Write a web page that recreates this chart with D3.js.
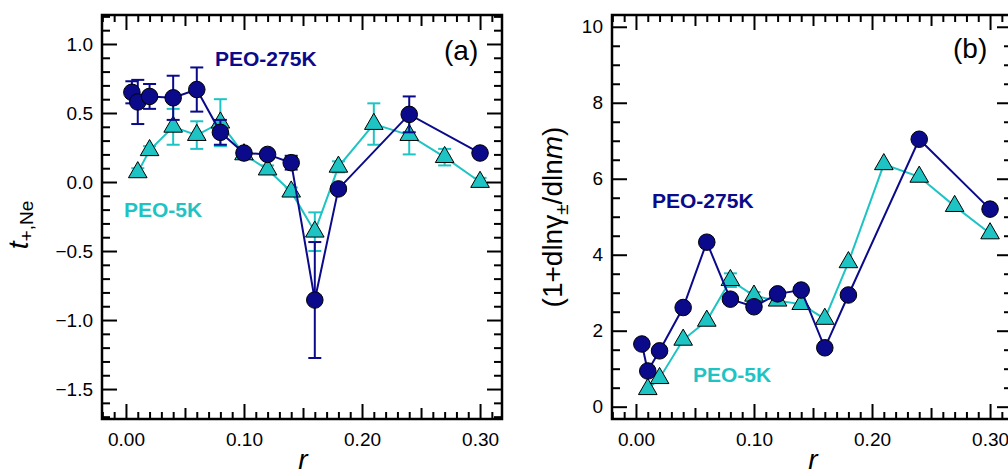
<!DOCTYPE html>
<html>
<head>
<meta charset="utf-8">
<script src="https://cdn.jsdelivr.net/npm/d3@7"></script>
<style>
  body { margin: 0; background: #fff; }
  svg { display: block; }
  text { font-family: Arial, "Liberation Sans", sans-serif; }
</style>
</head>
<body>
<div id="chart"></div>
<script>
// panel (a): t+,Ne vs r
var rA275 = [0.005, 0.01, 0.02, 0.04, 0.06, 0.08, 0.10, 0.12, 0.14, 0.16, 0.18, 0.24, 0.30];
var tA275 = [0.65, 0.58, 0.62, 0.61, 0.67, 0.36, 0.21, 0.20, 0.14, -0.855, -0.05, 0.49, 0.21];
var eA275 = [0.08, 0.16, 0.09, 0.16, 0.16, 0.09, 0.03, 0.03, 0.05, 0.42, 0.03, 0.13, 0.03];
var rA5 = [0.01, 0.02, 0.04, 0.06, 0.08, 0.10, 0.12, 0.14, 0.16, 0.18, 0.21, 0.24, 0.27, 0.30];
var tA5 = [0.07, 0.23, 0.40, 0.34, 0.43, 0.20, 0.09, -0.07, -0.36, 0.11, 0.42, 0.34, 0.18, 0.00];
var eA5 = [0.03, 0.03, 0.13, 0.10, 0.17, 0.03, 0.03, 0.03, 0.14, 0.04, 0.15, 0.14, 0.06, 0.03];

// panel (b): thermodynamic factor vs r
var rB275 = [0.005, 0.01, 0.02, 0.04, 0.06, 0.08, 0.10, 0.12, 0.14, 0.16, 0.18, 0.24, 0.30];
var gB275 = [1.65, 0.94, 1.47, 2.61, 4.33, 2.83, 2.63, 2.97, 3.07, 1.55, 2.94, 7.04, 5.20];
var eB275 = [0, 0, 0, 0, 0, 0, 0, 0, 0, 0, 0, 0, 0];
var rB5 = [0.01, 0.02, 0.04, 0.06, 0.08, 0.10, 0.12, 0.14, 0.16, 0.18, 0.21, 0.24, 0.27, 0.30];
var gB5 = [0.46, 0.75, 1.76, 2.26, 3.33, 2.92, 2.79, 2.70, 2.31, 3.80, 6.38, 6.05, 5.28, 4.56];
var eB5 = [0, 0, 0, 0, 0.18, 0.10, 0, 0, 0, 0, 0, 0, 0, 0];

var xTicks = [0, 0.1, 0.2, 0.3];
var yTicksA = [-1.5, -1.0, -0.5, 0, 0.5, 1.0];
var yTicksB = [0, 2, 4, 6, 8, 10];

var navy = "#0a0a8a", cyan = "#1ec4c4";
var W = 1008, H = 475, top_ = 15, bottom = 419, pw = 400;

var svg = d3.select("#chart").append("svg")
    .attr("width", W)
    .attr("height", H);

function rnd(v) { return Math.round(v * 1000) / 1000; }

function panel(cfg) {
    var g = svg.append("g");
    var x = d3.scaleLinear().domain([-0.0203, 0.3186]).range([cfg.left, cfg.left + pw]);
    var y = d3.scaleLinear().domain(cfg.yDom).range([bottom, top_]);

    var xMed = [0.05, 0.15, 0.25];
    var xMinor = d3.range(-2, 32).map(function (i) { return rnd(i / 100); })
        .filter(function (v) { return v * 100 % 5 !== 0; });
    var yMinor = cfg.yMinor;

    // ticks on all four sides, pointing in
    function ticks(axisFn, scale, vals, len, fmt, tr, pad) {
        var a = axisFn(scale).tickValues(vals).tickSize(-len).tickPadding(pad || 0)
            .tickFormat(fmt || "");
        var sel = g.append("g").attr("transform", tr).call(a);
        sel.select(".domain").remove();
        sel.selectAll("line").attr("stroke", "#000").attr("stroke-width", 2);
        sel.selectAll("text").attr("font-size", 19).attr("fill", "#000");
        return sel;
    }
    var bt = "translate(0," + bottom + ")", tt = "translate(0," + top_ + ")";
    var lt = "translate(" + cfg.left + ",0)", rt = "translate(" + (cfg.left + pw) + ",0)";

    ticks(d3.axisBottom, x, xTicks, 15, d3.format(".2f"), bt, 14);
    ticks(d3.axisBottom, x, xMed, 11, null, bt);
    ticks(d3.axisBottom, x, xMinor, 7, null, bt);
    ticks(d3.axisTop, x, xTicks, 15, null, tt);
    ticks(d3.axisTop, x, xMed, 11, null, tt);
    ticks(d3.axisTop, x, xMinor, 7, null, tt);
    ticks(d3.axisLeft, y, cfg.yTicks, 15, cfg.yFmt, lt, 9);
    ticks(d3.axisLeft, y, yMinor, 8, null, lt);
    ticks(d3.axisRight, y, cfg.yTicks, 15, null, rt);
    ticks(d3.axisRight, y, yMinor, 8, null, rt);

    g.append("rect")
        .attr("x", cfg.left).attr("y", top_)
        .attr("width", pw).attr("height", bottom - top_)
        .attr("fill", "none").attr("stroke", "#000").attr("stroke-width", 2.5);

    var line = d3.line().x(function (d) { return x(d[0]); }).y(function (d) { return y(d[1]); });

    cfg.series.forEach(function (s) {
        var pts = s.r.map(function (r, i) { return [r, s.v[i], s.e[i]]; });
        g.append("path").datum(pts)
            .attr("d", line)
            .attr("fill", "none").attr("stroke", s.color).attr("stroke-width", 2);

        var eb = g.append("g").attr("stroke", s.color).attr("stroke-width", 2);
        pts.filter(function (d) { return d[2] > 0; }).forEach(function (d) {
            var cx = x(d[0]), y0 = y(d[1] - d[2]), y1 = y(d[1] + d[2]);
            eb.append("line").attr("x1", cx).attr("x2", cx).attr("y1", y0).attr("y2", y1);
            eb.append("line").attr("x1", cx - 6.5).attr("x2", cx + 6.5).attr("y1", y0).attr("y2", y0);
            eb.append("line").attr("x1", cx - 6.5).attr("x2", cx + 6.5).attr("y1", y1).attr("y2", y1);
        });

        var sym = d3.symbol().type(s.shape === "circle" ? d3.symbolCircle : d3.symbolTriangle)
            .size(s.shape === "circle" ? 215 : 150);
        g.selectAll(null).data(pts).enter().append("path")
            .attr("d", sym)
            .attr("transform", function (d) { return "translate(" + x(d[0]) + "," + y(d[1]) + ")"; })
            .attr("fill", s.color).attr("stroke", "#000").attr("stroke-width", 1);
    });

    cfg.labels.forEach(function (l) {
        g.append("text").attr("x", l.x).attr("y", l.y)
            .attr("font-size", l.size).attr("font-weight", l.bold ? "bold" : "normal")
            .attr("fill", l.color).text(l.text);
    });

    g.append("text")
        .attr("x", cfg.left + 201).attr("y", 469)
        .attr("text-anchor", "middle").attr("font-size", 28).attr("font-style", "italic")
        .text("r");

    return g;
}

var ga = panel({
    left: 102,
    yDom: [-1.717, 1.21],
    yTicks: yTicksA,
    yFmt: d3.format(".1f"),
    yMinor: d3.range(-17, 13).map(function (i) { return rnd(i / 10); })
        .filter(function (v) { return Math.round(v * 10) % 5 !== 0; }),
    series: [
        { r: rA5, v: tA5, e: eA5, color: cyan, shape: "triangle" },
        { r: rA275, v: tA275, e: eA275, color: navy, shape: "circle" }
    ],
    labels: [
        { text: "PEO-275K", x: 215, y: 66, size: 21, bold: true, color: navy },
        { text: "PEO-5K", x: 124, y: 217, size: 21, bold: true, color: cyan },
        { text: "(a)", x: 444, y: 60, size: 28, color: "#000" }
    ]
});

ga.append("text")
    .attr("transform", "translate(28,225) rotate(-90)")
    .attr("text-anchor", "middle").attr("font-size", 28)
    .call(function (t) {
        t.append("tspan").attr("font-style", "italic").text("t");
        t.append("tspan").attr("font-size", 19).attr("dy", 5).text("+,Ne");
    });

var gb = panel({
    left: 612,
    yDom: [-0.324, 10.31],
    yTicks: yTicksB,
    yFmt: d3.format("d"),
    yMinor: d3.range(0, 21).map(function (i) { return i / 2; })
        .filter(function (v) { return v % 2 !== 0; }),
    series: [
        { r: rB5, v: gB5, e: eB5, color: cyan, shape: "triangle" },
        { r: rB275, v: gB275, e: eB275, color: navy, shape: "circle" }
    ],
    labels: [
        { text: "PEO-275K", x: 652, y: 208, size: 21, bold: true, color: navy },
        { text: "PEO-5K", x: 693, y: 382, size: 21, bold: true, color: cyan },
        { text: "(b)", x: 953, y: 58, size: 28, color: "#000" }
    ]
});

gb.append("text")
    .attr("transform", "translate(562,217) rotate(-90)")
    .attr("text-anchor", "middle").attr("font-size", 28)
    .call(function (t) {
        t.append("tspan").text("(1+dln\u03b3");
        t.append("tspan").attr("font-size", 19).attr("dy", 6).text("\u00b1");
        t.append("tspan").attr("dy", -6).text("/dln");
        t.append("tspan").attr("font-style", "italic").text("m");
        t.append("tspan").text(")");
    });
</script>
</body>
</html>
